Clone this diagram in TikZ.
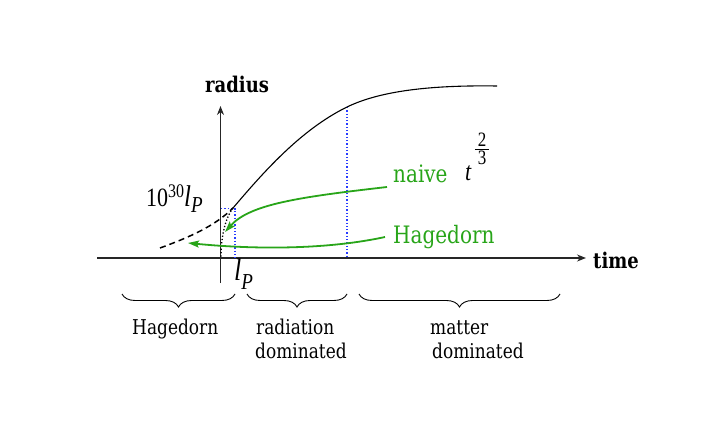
\documentclass[tikz,border=0pt]{standalone}
\usepackage{fontspec}
\setmainfont{DejaVu Serif}
\newfontfamily\lib{Liberation Serif}
\usepackage{amsmath}
\usepackage{graphicx}
\usetikzlibrary{arrows.meta,decorations.pathreplacing}
\definecolor{lgreen}{RGB}{40,165,25}
\definecolor{lblue}{RGB}{40,60,255}
\tikzset{
  axis/.style={line width=1.4pt,draw=black!85,-{Stealth[length=9pt,width=7pt]}},
  grn/.style={draw=lgreen,line width=1.8pt,-{Stealth[length=11pt,width=7pt,inset=2pt]}},
  bdot/.style={draw=lblue,dotted,line width=1.3pt},
  lab/.style={inner sep=0pt,anchor=base west},
  brc/.style={decorate,decoration={brace,mirror,amplitude=13pt},line width=0.9pt},
}
\newcommand{\fs}[1]{\fontsize{#1}{#1}\selectfont}
\newcommand{\vst}[1]{\scalebox{1}[1.2]{#1}}
\begin{document}
\begin{tikzpicture}[x=1pt,y=-1pt]
\useasboundingbox (0,0) rectangle (706,425);
% axes
\coordinate (tx0) at (97,258);
\coordinate (tx1) at (586,258);
\coordinate (ry0) at (220.5,283);
\coordinate (ry1) at (220.5,106);
\draw[axis] (tx0) -- (tx1);
\draw[axis] (ry0) -- (ry1);
\node[lab,font=\fs{18}\bfseries] (radius) at (205,93) {\vst{radius}};
\node[lab,font=\fs{18}\bfseries] (time) at (593,268) {\vst{time}};
% blue dotted guides
\coordinate (b1) at (221,208.5);
\coordinate (b2) at (235,208.5);
\coordinate (b3) at (235,258);
\draw[bdot] (b1) -- (b2) -- (b3);
\coordinate (m1) at (347,107);
\coordinate (m2) at (347,258);
\draw[bdot] (m1) -- (m2);
% curves
\coordinate (pk) at (233,208);
\coordinate (hd) at (160,248);
\coordinate (o) at (221,258);
\coordinate (mid) at (347,107);
\coordinate (top) at (497,86);
\draw[line width=1.1pt] (pk) .. controls (262,174) and (300,130) .. (mid) .. controls (380,91) and (430,85) .. (top);
\draw[line width=1.5pt,dashed,dash pattern=on 6pt off 4pt] (hd) .. controls (190,237) and (215,226) .. (pk);
\draw[line width=1.3pt,dotted] (pk) .. controls (224,220) and (221,240) .. (o);
% labels
\node[lab,font=\fs{20},text=lgreen] (naive) at (393,182) {\vst{naive}};
\node[lab,font=\fs{20},text=lgreen] (hag) at (393,243) {\vst{Hagedorn}};
\node[lab,font=\lib] (tpow) at (465,180) {\vst{\fs{22}\textit{t}\hspace{2pt}\raisebox{20pt}{$\genfrac{}{}{0.6pt}{}{\hbox{\lib\fs{17}\hspace{3pt}2\hspace{3pt}}}{\hbox{\lib\fs{17}\hspace{3pt}3\hspace{3pt}}}$}}};
\node[lab,font=\lib] (lp30) at (146,206) {\vst{\fs{22}10\raisebox{7.5pt}{\fs{16}30}\fs{25}\textit{l}\raisebox{-5pt}{\fs{19}\textit{P}}}};
\node[lab,font=\lib] (lp) at (234,280) {\vst{\fs{26}\textit{l}\raisebox{-8.3pt}{\fs{19}\textit{P}}}};
% green arrows
\coordinate (na) at (225,232);
\coordinate (ha) at (188,243);
\draw[grn] ([xshift=-6pt,yshift=-5pt]naive.base west) .. controls (300,197) and (250,204) .. (na);
\draw[grn] ([xshift=-8pt,yshift=6pt]hag.base west) .. controls (330,249) and (260,250) .. (ha);
% braces
\coordinate (h0) at (122,294); \coordinate (h1) at (235,294);
\coordinate (r0) at (247,294); \coordinate (r1) at (347,294);
\coordinate (x0) at (359,294); \coordinate (x1) at (560,294);
\draw[brc] (h0) -- (h1);
\draw[brc] (r0) -- (r1);
\draw[brc] (x0) -- (x1);
\node[lab,font=\fs{17}] (lh) at (132,334) {\vst{Hagedorn}};
\node[lab,font=\fs{17}] (lr1) at (256,334) {\vst{radiation}};
\node[lab,font=\fs{17}] (lr2) at (255,358) {\vst{dominated}};
\node[lab,font=\fs{17}] (lm1) at (430,334) {\vst{matter}};
\node[lab,font=\fs{17}] (lm2) at (432,358) {\vst{dominated}};
\end{tikzpicture}
\end{document}
